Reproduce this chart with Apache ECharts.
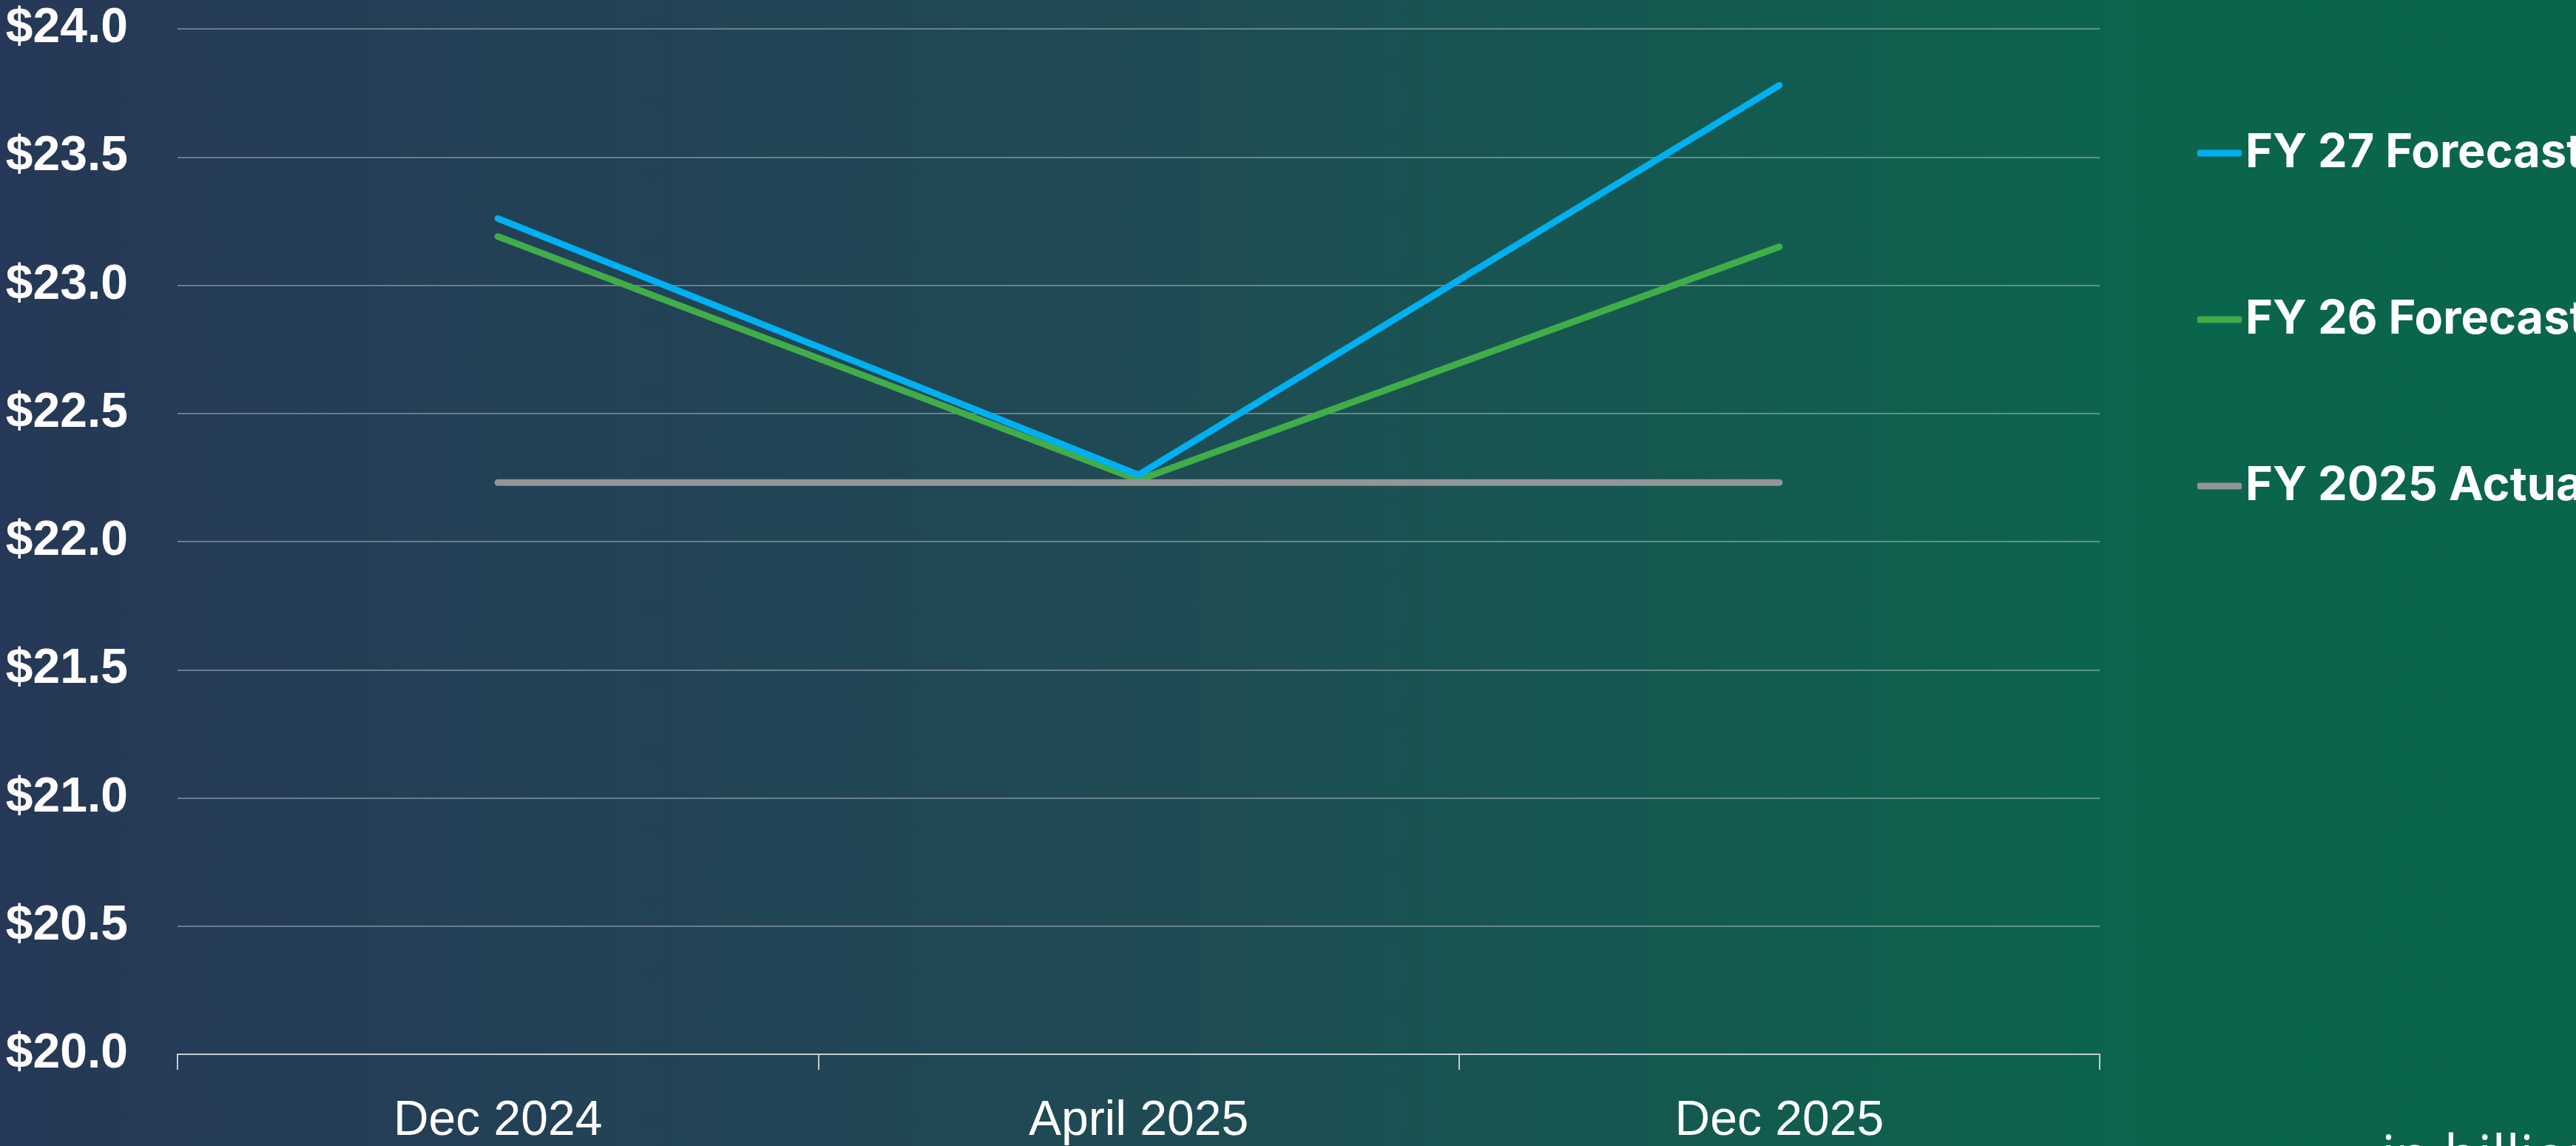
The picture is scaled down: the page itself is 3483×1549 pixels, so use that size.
<!DOCTYPE html>
<html>
<head>
<meta charset="utf-8">
<script src="https://cdn.jsdelivr.net/npm/echarts@6/dist/echarts.min.js"></script>
<style>
  html, body { margin: 0; padding: 0; }
  #chart { width: 3483px; height: 1549px; }
</style>
</head>
<body>
<div id="chart"></div>
<script>
// periods on the x axis
const periods = ['Dec 2024', 'April 2025', 'Dec 2025']

// values in $ billions
const fy27Forecast = [23.26, 22.26, 23.78]
const fy26Forecast = [23.19, 22.24, 23.15]
const fy25Actual = [22.23, 22.23, 22.23]

const yMin = 20
const yMax = 24
const yStep = 0.5

const chart = echarts.init(document.getElementById('chart'))

const lineOf = (name, data, color, z) => ({
  name: name,
  type: 'line',
  data: data,
  z: z,
  showSymbol: false,
  symbol: 'none',
  lineStyle: { color: color, width: 9, cap: 'round', join: 'round' },
  itemStyle: { color: color }
})

const option = {
  backgroundColor: new echarts.graphic.LinearGradient(0, 0, 1, 0, [
    { offset: 0, color: '#263857' },
    { offset: 0.45, color: '#1f4b54' },
    { offset: 0.83, color: '#0b654d' },
    { offset: 1, color: '#0a654d' }
  ]),
  animation: false,
  grid: { left: 240, right: 644, top: 39, bottom: 120 },
  legend: {
    orient: 'vertical',
    left: 2966,
    top: 167,
    data: ['FY 27 Forecast', 'FY 26 Forecast', 'FY 2025 Actual'],
    icon: 'roundRect',
    itemWidth: 60,
    itemHeight: 9,
    itemGap: 155,
    textStyle: {
      color: '#ffffff',
      fontFamily: 'Inter',
      fontWeight: 700,
      fontSize: 63,
      lineHeight: 70
    }
  },
  xAxis: {
    type: 'category',
    data: periods,
    boundaryGap: true,
    axisLine: { lineStyle: { color: '#c5ccd3', width: 2 } },
    axisTick: { show: true, length: 21, lineStyle: { color: '#c5ccd3', width: 2 } },
    axisLabel: {
      color: '#ffffff',
      fontFamily: 'Liberation Sans',
      fontSize: 66,
      margin: 58
    }
  },
  yAxis: {
    type: 'value',
    min: yMin,
    max: yMax,
    interval: yStep,
    axisLine: { show: false },
    axisTick: { show: false },
    splitLine: { lineStyle: { color: 'rgba(255,255,255,0.32)', width: 2 } },
    axisLabel: {
      color: '#ffffff',
      fontFamily: 'Liberation Sans',
      fontWeight: 'bold',
      fontSize: 66,
      margin: 67,
      formatter: v => '$' + v.toFixed(1)
    }
  },
  graphic: [{
    type: 'text',
    x: 3220,
    y: 1567,
    style: {
      text: 'in billions',
      fill: '#ffffff',
      font: '75px "Open Sans"',
      textVerticalAlign: 'middle'
    }
  }],
  series: [
    lineOf('FY 26 Forecast', fy26Forecast, '#41ad49', 2),
    lineOf('FY 27 Forecast', fy27Forecast, '#00b0f0', 3),
    lineOf('FY 2025 Actual', fy25Actual, '#939598', 4)
  ]
}

chart.setOption(option)
</script>
</body>
</html>
